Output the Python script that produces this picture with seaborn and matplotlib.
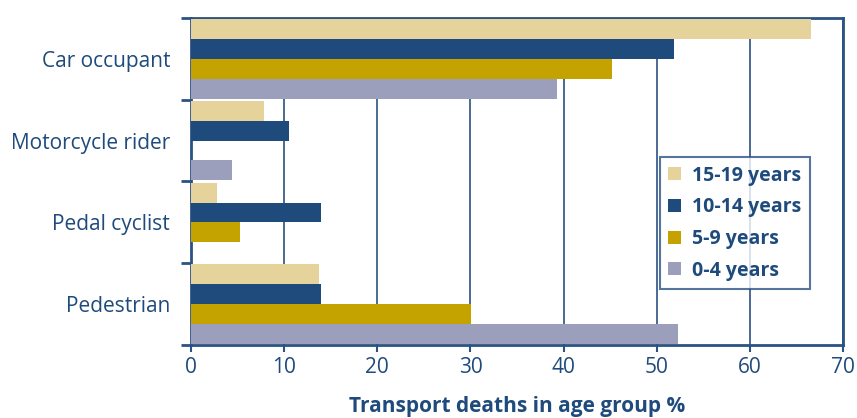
import matplotlib
matplotlib.use("Agg")
import matplotlib.pyplot as plt
import pandas as pd
import seaborn as sns

categories = ["Car occupant", "Motorcycle rider", "Pedal cyclist", "Pedestrian"]
age_groups = ["15-19 years", "10-14 years", "5-9 years", "0-4 years"]
v_15_19 = [66.6, 7.8, 2.8, 13.7]
v_10_14 = [51.8, 10.5, 14.0, 14.0]
v_5_9 = [45.2, 0.0, 5.3, 30.1]
v_0_4 = [39.3, 4.4, 0.0, 52.3]
colors = ["#E6D39C", "#1F4A7C", "#C4A300", "#9B9FBC"]

rows = []
for grp, vals in zip(age_groups, [v_15_19, v_10_14, v_5_9, v_0_4]):
    for cat, v in zip(categories, vals):
        rows.append({"mode": cat, "age": grp, "pct": v})
df = pd.DataFrame(rows)

sns.set_style("white")
plt.rcParams["font.family"] = ["Open Sans", "DejaVu Sans"]
navy = "#1F4A7C"
edge = "#2B5284"

fig = plt.figure(figsize=(8.57, 4.18), dpi=100)
ax = fig.add_axes([0.2229, 0.1746, 0.9837 - 0.2229, 0.957 - 0.1746])

sns.barplot(data=df, y="mode", x="pct", hue="age", order=categories,
            hue_order=age_groups, palette=colors, orient="h", width=0.97,
            saturation=1, linewidth=0, ax=ax, zorder=3)

ax.set_xlim(0, 70)
ax.set_ylim(3.5, -0.5)
ax.set_xticks(range(0, 71, 10))
ax.grid(axis="x", color=edge, linewidth=1.2, zorder=0)
ax.set_axisbelow(True)
for s in ax.spines.values():
    s.set_color(edge)
    s.set_linewidth(2)

ax.set_yticks([-0.5, 0.5, 1.5, 2.5, 3.5], minor=True)
ax.tick_params(axis="y", which="major", left=False, length=0, labelsize=15,
               labelcolor=navy, pad=15)
ax.tick_params(axis="y", which="minor", left=True, length=7, width=2, color=edge)
ax.tick_params(axis="x", bottom=True, length=5, width=1.5, color=edge,
               labelsize=15, labelcolor=navy)

ax.set_ylabel("")
ax.set_xlabel("Transport deaths in age group %", fontsize=15, fontweight="bold",
              color=navy, labelpad=13)

leg = ax.legend(loc="upper right", bbox_to_anchor=(0.949, 0.575), frameon=True,
                fancybox=False, edgecolor=edge, handlelength=0.65, handleheight=0.65,
                borderpad=0.45, labelspacing=0.6, handletextpad=0.55,
                borderaxespad=0, prop={"weight": "bold", "size": 14})
leg.get_frame().set_linewidth(1.5)
for t in leg.get_texts():
    t.set_color(navy)

fig.savefig("out.png", dpi=100)
